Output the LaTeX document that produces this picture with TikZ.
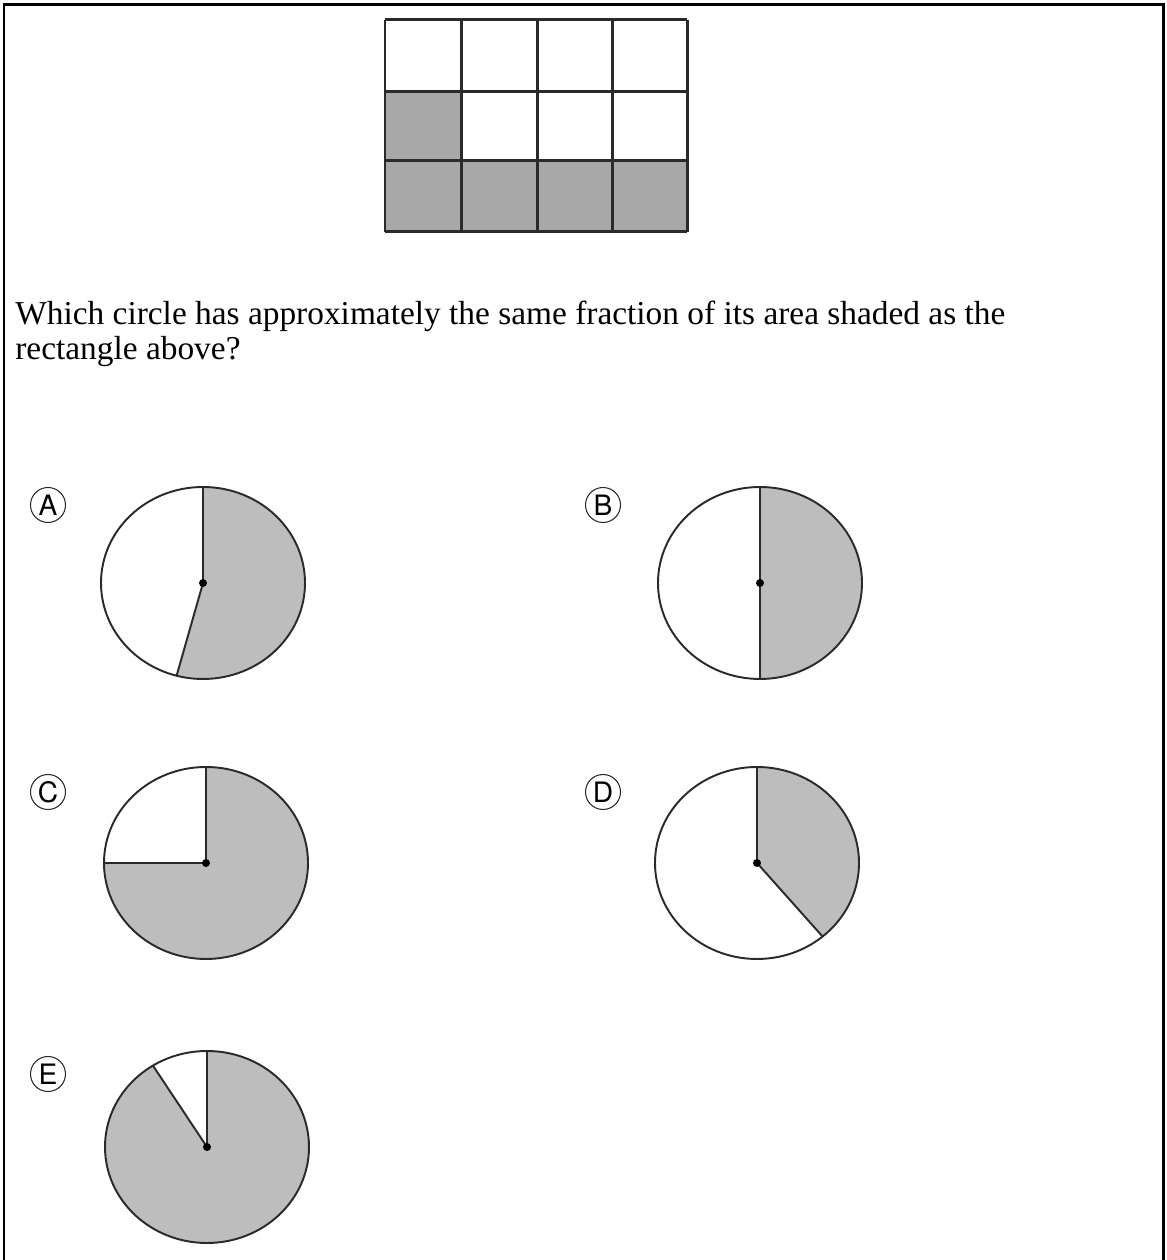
\documentclass[tikz,border=0pt]{standalone}
\usepackage{fontspec}
\setmainfont{Liberation Serif}
\newfontfamily\labelfont{TeX Gyre Heros}
\definecolor{gridgray}{HTML}{A8A8A8}
\definecolor{piegray}{HTML}{BDBDBD}
\definecolor{inkline}{HTML}{2A2A2A}
\begin{document}
\begin{tikzpicture}[x=0.02cm, y=0.02cm,
  cellline/.style={draw=inkline, line width=1.7pt},
  pieline/.style={draw=inkline, line width=1.1pt},
  pieshade/.style={fill=piegray},
  choice/.style={draw=inkline, circle, line width=0.6pt, minimum size=0.7cm, inner sep=0pt, font=\labelfont\fontsize{16}{16}\selectfont}]
\useasboundingbox (0,0) rectangle (1166,1260);
% frame
\draw[line width=1.7pt] (4,0) -- (4,1255) -- (1163,1255) -- (1163,0);
% rectangle with shaded cells
\fill[gridgray] (385,1168) rectangle (461,1099);
\fill[gridgray] (385,1099) rectangle (687,1028);
\foreach \x in {385,461,537,612,687}
  \draw[cellline] (\x,1240) -- (\x,1028);
\foreach \y in {1240,1168,1099,1028}
  \draw[cellline] (385,\y) -- (687,\y);
% question
\node[anchor=base west, inner sep=0pt, font=\fontsize{19}{22}\selectfont] (q1) at (15,935) {Which circle has approximately the same fraction of its area shaded as the};
\node[anchor=base west, inner sep=0pt, font=\fontsize{19}{22}\selectfont] (q2) at (15,900) {rectangle above?};
% A
\coordinate (ca) at (203,677);
\node[choice] (la) at (48,755) {A};
\fill[pieshade] (ca) -- +(-105:102 and 96) arc[start angle=-105, end angle=90, x radius=102, y radius=96] -- cycle;
\draw[pieline] (ca) ellipse[x radius=102, y radius=96];
\draw[pieline] (ca) -- +(90:102 and 96);
\draw[pieline] (ca) -- +(-105:102 and 96);
\fill (ca) circle[radius=4];
% B
\coordinate (cb) at (760,677);
\node[choice] (lb) at (603,755) {B};
\fill[pieshade] (cb) -- +(-90:102 and 96) arc[start angle=-90, end angle=90, x radius=102, y radius=96] -- cycle;
\draw[pieline] (cb) ellipse[x radius=102, y radius=96];
\draw[pieline] (cb) -- +(90:102 and 96);
\draw[pieline] (cb) -- +(-90:102 and 96);
\fill (cb) circle[radius=4];
% C
\coordinate (cc) at (206,397);
\node[choice] (lc) at (48,468) {C};
\fill[pieshade] (cc) -- +(180:102 and 96) arc[start angle=180, end angle=450, x radius=102, y radius=96] -- cycle;
\draw[pieline] (cc) ellipse[x radius=102, y radius=96];
\draw[pieline] (cc) -- +(90:102 and 96);
\draw[pieline] (cc) -- +(180:102 and 96);
\fill (cc) circle[radius=4];
% D
\coordinate (cd) at (757,397);
\node[choice] (ld) at (603,468) {D};
\fill[pieshade] (cd) -- +(-50:102 and 96) arc[start angle=-50, end angle=90, x radius=102, y radius=96] -- cycle;
\draw[pieline] (cd) ellipse[x radius=102, y radius=96];
\draw[pieline] (cd) -- +(90:102 and 96);
\draw[pieline] (cd) -- +(-50:102 and 96);
\fill (cd) circle[radius=4];
% E
\coordinate (ce) at (207,113);
\node[choice] (le) at (48,186) {E};
\fill[pieshade] (ce) -- +(122:102 and 96) arc[start angle=122, end angle=450, x radius=102, y radius=96] -- cycle;
\draw[pieline] (ce) ellipse[x radius=102, y radius=96];
\draw[pieline] (ce) -- +(90:102 and 96);
\draw[pieline] (ce) -- +(122:102 and 96);
\fill (ce) circle[radius=4];
\end{tikzpicture}
\end{document}
